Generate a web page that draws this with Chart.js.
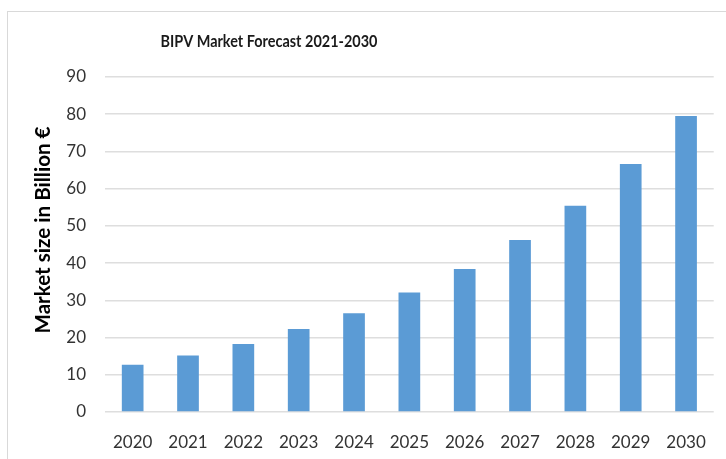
<!DOCTYPE html>
<html>
<head>
<meta charset="utf-8">
<script src="https://cdn.jsdelivr.net/npm/chart.js@4/dist/chart.umd.min.js"></script>
<style>
    body { margin: 0; background: #fff; }
    #wrap { position: relative; width: 726px; height: 459px; overflow: hidden; }
    #frame { position: absolute; left: 7px; top: 11px; width: 740px; height: 470px; border: 1.5px solid #d9d9d9; }
    #mainChart { position: absolute; left: 0; top: 0; }
</style>
</head>
<body>
<div id="wrap">
    <div id="frame"></div>
    <canvas id="mainChart" width="726" height="459"></canvas>
</div>
<script>
const YEARS = ['2020', '2021', '2022', '2023', '2024', '2025', '2026', '2027', '2028', '2029', '2030'];
const MARKET_SIZE = [12.7, 15.2, 18.3, 22.3, 26.5, 32.1, 38.4, 46.2, 55.4, 66.6, 79.5];
const Y_TICKS = [0, 10, 20, 30, 40, 50, 60, 70, 80, 90];
const TITLE = 'BIPV Market Forecast 2021-2030';
const Y_TITLE = 'Market size in Billion €';

// titles sit off-centre in the original, so they are drawn here
// (squeezed a bit to look like the narrow office font)
const titlesPlugin = {
    id: 'titles',
    afterDraw(chart) {
        const ctx = chart.ctx;
        ctx.save();
        ctx.textAlign = 'center';
        ctx.textBaseline = 'middle';
        ctx.fillStyle = '#1a1a1a';
        ctx.font = 'bold 17px Lato';
        ctx.translate(269, 42);
        ctx.scale(0.85, 1);
        ctx.fillText(TITLE, 0, 0);
        ctx.restore();

        ctx.save();
        ctx.textAlign = 'center';
        ctx.textBaseline = 'middle';
        ctx.fillStyle = '#000';
        ctx.font = 'bold 21px Lato';
        ctx.translate(43, 230);
        ctx.rotate(-Math.PI / 2);
        ctx.scale(0.98, 1);
        ctx.fillText(Y_TITLE, 0, 0);
        ctx.restore();
    }
};

function main() {
    Chart.defaults.font.family = 'Lato';
    Chart.defaults.font.size = 17;
    Chart.defaults.color = '#333333';
    const CTX = document.getElementById('mainChart').getContext('2d');
    new Chart(CTX, {
        type: 'bar',
        data: {
            labels: YEARS,
            datasets: [{
                label: 'Market size',
                data: MARKET_SIZE,
                backgroundColor: '#5b9bd5',
                borderWidth: 0,
                categoryPercentage: 0.8,
                barPercentage: 0.49
            }]
        },
        options: {
            responsive: false,
            animation: false,
            layout: { padding: { top: 77, right: 5, left: 0, bottom: 0 } },
            scales: {
                x: {
                    grid: { display: false, drawTicks: false },
                    border: { display: false },
                    ticks: { padding: 20, maxRotation: 0, autoSkip: false },
                    afterFit: (s) => { s.height = 47; }
                },
                y: {
                    min: 0,
                    max: 90,
                    afterBuildTicks: (s) => { s.ticks = Y_TICKS.map(v => ({ value: v })); },
                    grid: { color: '#dedede', lineWidth: 1.5, drawTicks: false },
                    border: { display: false },
                    ticks: { padding: 19 },
                    afterFit: (s) => { s.width = 105; }
                }
            },
            plugins: {
                legend: { display: false },
                tooltip: { enabled: false }
            }
        },
        plugins: [titlesPlugin]
    });
}

main();
</script>
</body>
</html>
